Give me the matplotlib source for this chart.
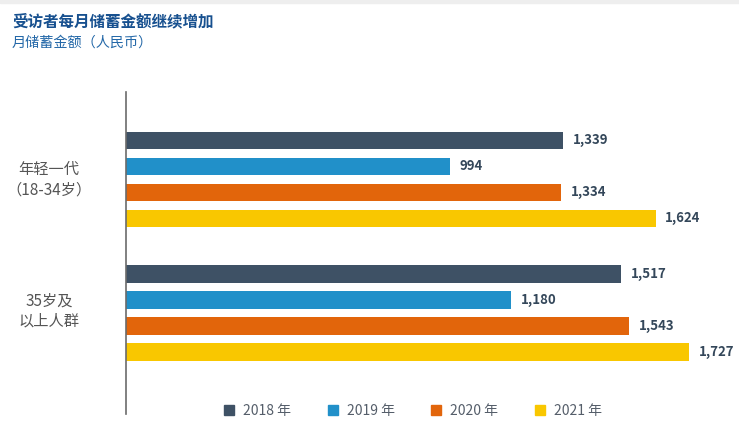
import numpy as np
import matplotlib.pyplot as plt
from matplotlib.lines import Line2D

plt.rcParams['font.family'] = ['Noto Sans CJK SC', 'DejaVu Sans']

groups = ['年轻一代\n（18-34岁）', '35岁及\n以上人群']
years = ['2018 年', '2019 年', '2020 年', '2021 年']
v2018 = [1339, 1517]
v2019 = [994, 1180]
v2020 = [1334, 1543]
v2021 = [1624, 1727]
colors = ['#3e5165', '#2190c9', '#e2650b', '#f9c700']

series = [v2018, v2019, v2020, v2021]

fig = plt.figure(figsize=(7.39, 4.32), dpi=100)
fig.patches.append(plt.Rectangle((0, 0.993), 1, 0.007, transform=fig.transFigure,
                                 color='#eeeeee', zorder=0))
ax = fig.add_axes([126/739, 1-414/432, 1-126/739, (414-92)/432])

group_start = [0, 5.14]
for i, vals in enumerate(series):
    for g, v in enumerate(vals):
        y = group_start[g] + i
        ax.barh(y, v, height=0.67, color=colors[i], edgecolor='none')
        ax.text(v + 30, y, f'{v:,}', va='center', ha='left', fontsize=9.5,
                fontweight='bold', color='#34475a')

ax.set_xlim(0, 1880)
ax.set_ylim(10.52, -1.865)
for s in ['top', 'right', 'bottom']:
    ax.spines[s].set_visible(False)
ax.spines['left'].set_color('#6b6b6b')
ax.spines['left'].set_linewidth(1.2)
ax.set_xticks([])
ax.set_yticks([])

fig.text(49/739, 1-180/432, groups[0], ha='center', va='center', fontsize=11,
         color='#555555', linespacing=1.25)
fig.text(49/739, 1-311/432, groups[1], ha='center', va='center', fontsize=11,
         color='#555555', linespacing=1.25)

fig.text(12/739, 1-21/432, '受访者每月储蓄金额继续增加', ha='left', va='center',
         fontsize=11.2, fontweight='bold', color='#17508f')
fig.text(12/739, 1-43/432, '月储蓄金额（人民币）', ha='left', va='center',
         fontsize=10.2, color='#2468a8')

handles = [Line2D([], [], marker='s', linestyle='none', markersize=7,
                  color=c) for c in colors]
fig.legend(handles, years, loc='center', bbox_to_anchor=(412/739, 1-411/432),
           ncol=4, frameon=False, fontsize=10, handlelength=1.0,
           handletextpad=0.5, columnspacing=2.5, labelcolor='#555e6a')

fig.savefig('out.png', dpi=100)
